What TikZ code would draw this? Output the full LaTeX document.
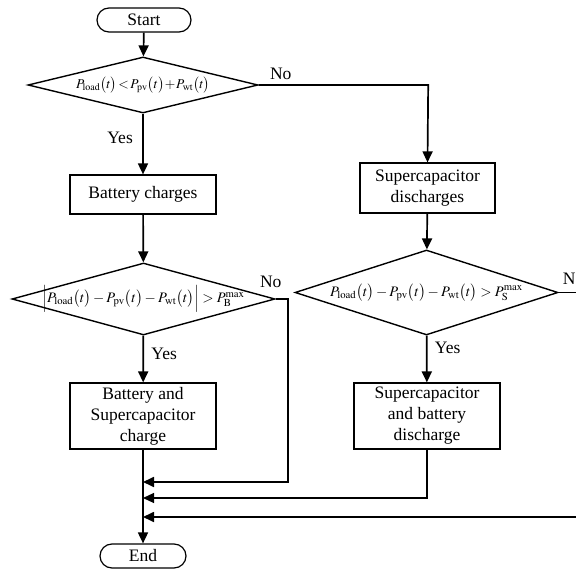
\documentclass[tikz,border=0pt]{standalone}
\usepackage{mathptmx}
\usepackage{fontspec}
\setmainfont{Liberation Serif}
\usepackage{tikz}
\usetikzlibrary{shapes.geometric, arrows.meta}

\begin{document}
\begin{tikzpicture}[
            x=1pt, y=-1pt,
            every node/.style={font=\fontsize{17.5}{21}\selectfont},
            terminal/.style={
                rectangle,
                draw,
                rounded corners=12pt,
                minimum width=86pt,
                minimum height=24pt,
                inner sep=0pt,
                line width=1.2pt
            },
            box/.style={
                rectangle,
                draw,
                align=center,
                minimum width=146pt,
                inner sep=0pt,
                line width=1.2pt
            },
            decision/.style={
                diamond,
                draw,
                inner sep=0pt,
                line width=1.4pt
            },
            formula/.style={
                inner sep=0pt,
                font=\fontsize{14.5}{16}\selectfont
            },
            arrow/.style={-{Triangle[length=11pt, width=10pt]}, line width=1.7pt}
        ]
        \clip (0,0) rectangle (576,569);

        % Nodes
        \node[terminal, minimum width=94pt] (start) at (144,20) {Start};

        \node[decision, minimum width=230pt, minimum height=56pt] (cond1) at (143,85) {};
        \node[formula, font=\fontsize{13.5}{15}\selectfont] (cond1text) at (cond1)
            {$\medmuskip=1mu \thickmuskip=2mu
              P_{\mathrm{load}}\big(t\big) < P_{\mathrm{pv}}\big(t\big) + P_{\mathrm{wt}}\big(t\big)$};

        \node[box, minimum height=39pt] (bat) at (143,194.5) {Battery charges};

        \node[box, minimum width=135pt, minimum height=50pt] (sc) at (427.5,188)
            {Supercapacitor\\discharges};

        \node[decision, minimum width=263pt, minimum height=72pt] (cond2) at (143.5,299) {};
        \node[formula] (cond2text) at (cond2)
            {$\Big|P_{\mathrm{load}}\big(t\big) - P_{\mathrm{pv}}\big(t\big) - P_{\mathrm{wt}}\big(t\big)\Big| > P_{\mathrm{B}}^{\max}$};

        \node[decision, minimum width=263pt, minimum height=85pt] (cond3) at (426.5,292.5) {};
        \node[formula] (cond3text) at (cond3)
            {$P_{\mathrm{load}}\big(t\big) - P_{\mathrm{pv}}\big(t\big) - P_{\mathrm{wt}}\big(t\big) > P_{\mathrm{S}}^{\max}$};

        \node[box, minimum height=66pt] (batsc) at (143,416)
            {Battery and\\Supercapacitor\\charge};

        \node[box, minimum height=66pt] (scbat) at (427,416)
            {Supercapacitor\\and battery\\discharge};

        \node[terminal] (end) at (143,556) {End};

        \coordinate (join1) at (143,482);
        \coordinate (join2) at (143,498);
        \coordinate (join3) at (143,517);

        % Arrows
        \draw[arrow] (start) -- (cond1);
        \draw[arrow] (cond1) -- node[pos=0.4, left, xshift=-6pt] {Yes} (bat);
        \draw[arrow] (bat) -- (cond2);
        \draw[arrow] (cond2) -- node[pos=0.4, right, xshift=4pt] {Yes} (batsc);
        \draw[arrow] (sc) -- (cond3);
        \draw[arrow] (cond3) -- node[pos=0.27, right, xshift=4pt] {Yes} (scbat);
        \draw[arrow] (batsc) -- (end);

        % No branches
        \draw[arrow] (cond1.east) -- node[pos=0.13, above, yshift=1pt] {No} ++(169.5,0) -- (sc.north);
        \draw[arrow] (cond2.east) -- node[pos=0, above, xshift=-5pt, yshift=7pt] {No} ++(12,0) |- (join1);
        \draw[arrow, line width=1.2pt] (scbat.south) |- (join2);
        \draw[arrow] (cond3.east) -- node[pos=0, above right, xshift=0pt, yshift=4pt] {No} ++(24,0) |- (join3);

\end{tikzpicture}
\end{document}
